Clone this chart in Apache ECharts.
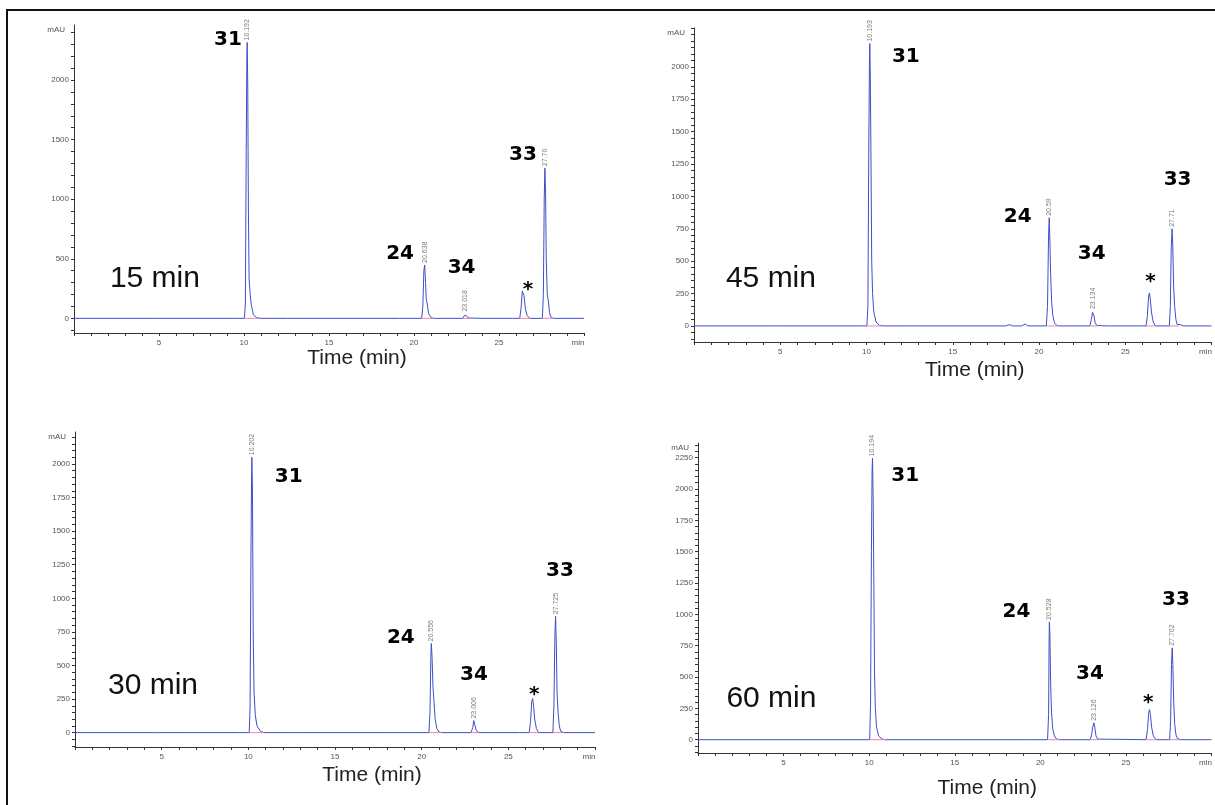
<!DOCTYPE html>
<html>
<head>
<meta charset="utf-8">
<script src="https://cdn.jsdelivr.net/npm/echarts@6/dist/echarts.min.js"></script>
<style>
html, body { margin: 0; padding: 0; background: #fff; }
#container { width: 1215px; height: 805px; }
</style>
</head>
<body>
<div id="container"></div>
<script>
let chart = echarts.init(document.getElementById('container'));

// chromatograms: [time (min), signal (mAU)]
var trace15 = [[0,0],[4.6,0],[4.7,7],[4.8,0],[9.5,0],[9.6,8],[9.7,0],[10.02,0],[10.08,120],[10.13,1400],[10.17,2200],[10.19,2315],[10.22,1950],[10.26,900],[10.3,330],[10.36,210],[10.42,120],[10.55,30],[10.75,5],[11.0,0],[12.55,0],[12.65,8],[12.75,0],[18.1,0],[18.2,6],[18.3,0],[19.15,0],[19.25,7],[19.35,0],[20.45,0],[20.52,100],[20.58,400],[20.63,448],[20.68,300],[20.72,160],[20.78,120],[20.86,40],[21.0,8],[21.15,0],[22.88,0],[22.96,25],[23.02,40],[23.08,22],[23.2,3],[23.3,0],[24.0,0],[24.08,6],[24.16,0],[25.65,0],[25.72,5],[25.8,0],[26.22,0],[26.3,90],[26.37,230],[26.42,240],[26.47,190],[26.55,80],[26.65,25],[26.8,0],[27.55,0],[27.61,200],[27.66,1000],[27.7,1260],[27.74,1050],[27.78,500],[27.84,200],[27.9,150],[27.97,50],[28.05,10],[28.12,18],[28.2,0],[30,0]];
var trace45 = [[0,0],[4.6,0],[4.7,5],[4.8,0],[9.5,0],[9.6,8],[9.7,0],[10.02,0],[10.08,150],[10.13,1350],[10.17,2050],[10.19,2180],[10.22,1920],[10.26,1250],[10.3,500],[10.35,250],[10.42,110],[10.55,30],[10.75,5],[11.0,0],[12.55,0],[12.65,8],[12.75,0],[18.05,0],[18.15,15],[18.3,10],[18.45,0],[18.65,0],[18.75,8],[18.85,0],[19.0,0],[19.1,12],[19.2,15],[19.35,0],[20.42,0],[20.49,150],[20.55,700],[20.59,835],[20.63,650],[20.67,400],[20.73,180],[20.8,80],[20.9,20],[21.05,3],[21.2,0],[22.95,0],[23.03,50],[23.1,105],[23.134,115],[23.18,80],[23.25,25],[23.35,3],[23.45,0],[24.0,0],[24.08,8],[24.16,0],[25.65,0],[25.72,5],[25.8,0],[26.2,0],[26.28,80],[26.35,230],[26.4,255],[26.45,200],[26.52,100],[26.62,30],[26.75,0],[27.55,0],[27.61,150],[27.66,600],[27.71,750],[27.75,620],[27.8,300],[27.86,150],[27.93,50],[28.0,12],[28.1,18],[28.2,10],[28.35,0],[30,0]];
var trace30 = [[0,0],[4.6,0],[4.7,6],[4.8,0],[6.6,0],[6.7,5],[6.8,0],[9.5,0],[9.6,8],[9.7,0],[10.05,0],[10.1,180],[10.15,1300],[10.19,1950],[10.202,2050],[10.24,1800],[10.28,750],[10.33,300],[10.4,130],[10.5,50],[10.7,10],[10.9,0],[12.6,0],[12.7,6],[12.8,0],[18.1,0],[18.2,8],[18.35,0],[18.65,0],[18.72,5],[18.8,0],[19.1,0],[19.2,8],[19.3,0],[20.42,0],[20.48,150],[20.53,560],[20.556,664],[20.6,560],[20.65,350],[20.7,250],[20.78,100],[20.88,30],[21.0,5],[21.15,0],[22.85,0],[22.95,40],[23.006,90],[23.06,60],[23.15,15],[23.3,0],[24.0,0],[24.08,6],[24.16,0],[25.65,0],[25.72,5],[25.8,0],[26.2,0],[26.28,80],[26.35,230],[26.4,254],[26.45,210],[26.52,100],[26.62,30],[26.75,0],[27.57,0],[27.63,200],[27.69,750],[27.725,866],[27.77,650],[27.81,300],[27.87,150],[27.94,50],[28.02,10],[28.1,12],[28.2,0],[30,0]];
var trace60 = [[0,0],[10.03,0],[10.08,300],[10.13,1500],[10.17,2150],[10.194,2245],[10.23,1950],[10.27,1300],[10.31,550],[10.36,250],[10.43,100],[10.55,30],[10.75,5],[10.95,0],[18.05,0],[18.15,10],[18.25,0],[19.1,0],[19.2,8],[19.3,0],[20.42,0],[20.48,200],[20.51,800],[20.528,940],[20.56,820],[20.6,450],[20.65,220],[20.72,90],[20.82,30],[20.95,5],[21.1,0],[22.9,0],[22.98,30],[23.06,100],[23.126,135],[23.18,100],[23.25,30],[23.35,5],[23.45,0],[26.18,0],[26.26,80],[26.33,220],[26.38,240],[26.43,200],[26.5,100],[26.6,30],[26.75,0],[27.55,0],[27.61,150],[27.66,600],[27.702,733],[27.74,600],[27.79,300],[27.85,120],[27.92,40],[28.0,10],[28.1,12],[28.2,0],[30,0]];

// retention time labels printed above the peaks
var rt15 = [[10.192,2315,'10.192'],[20.638,448,'20.638'],[23.018,40,'23.018'],[27.70,1260,'27.70']];
var rt45 = [[10.193,2180,'10.193'],[20.59,835,'20.59'],[23.134,115,'23.134'],[27.71,750,'27.71']];
var rt30 = [[10.202,2050,'10.202'],[20.556,664,'20.556'],[23.006,90,'23.006'],[27.725,866,'27.725']];
var rt60 = [[10.194,2245,'10.194'],[20.528,940,'20.528'],[23.126,135,'23.126'],[27.702,733,'27.702']];

// compound numbers written next to the peaks
var names15 = [[9.06,2336,'31'],[19.18,538,'24'],[22.8,428,'34'],[26.7,286,'*'],[26.41,1370,'33']];
var names45 = [[12.28,2077,'31'],[18.76,840,'24'],[23.05,554,'34'],[26.46,384,'*'],[28.03,1126,'33']];
var names30 = [[12.33,1905,'31'],[18.8,705,'24'],[23.02,434,'34'],[26.5,330,'*'],[27.98,1204,'33']];
var names60 = [[12.1,2103,'31'],[18.6,1017,'24'],[22.9,523,'34'],[26.3,345,'*'],[27.92,1115,'33']];

var run15 = [4.76, 336, '15 min'];
var run45 = [4.46, 368, '45 min'];
var run30 = [4.5, 347, '30 min'];
var run60 = [4.29, 327, '60 min'];

// integration baselines (start, end) in min
var base15 = [[10.0,10.9],[20.45,21.1],[22.85,23.3],[26.2,26.8],[27.55,28.1]];
var base45 = [[10.0,10.9],[20.42,21.2],[22.95,23.4],[26.2,26.75],[27.55,28.1]];
var base30 = [[10.05,10.9],[20.42,21.15],[22.85,23.3],[26.2,26.75],[27.57,28.1]];
var base60 = [[10.03,10.95],[20.42,21.1],[22.9,23.4],[26.18,26.75],[27.55,28.1]];

var yLabels15 = [0,500,1000,1500,2000];
var yLabels45 = [0,250,500,750,1000,1250,1500,1750,2000];
var yLabels30 = [0,250,500,750,1000,1250,1500,1750,2000];
var yLabels60 = [0,250,500,750,1000,1250,1500,1750,2000,2250];
var xLabels = [5,10,15,20,25];

var panels = [
    {trace: trace15, rt: rt15, names: names15, run: run15, base: base15, yLabels: yLabels15, yStep: 100,
     yMin: -123, yMax: 2462, grid: {left: 74, top: 25, width: 510, height: 308}, nameShift: [56, 23]},
    {trace: trace45, rt: rt45, names: names45, run: run45, base: base45, yLabels: yLabels45, yStep: 50,
     yMin: -124, yMax: 2300, grid: {left: 694, top: 28, width: 518, height: 314}, nameShift: [44, 28]},
    {trace: trace30, rt: rt30, names: names30, run: run30, base: base30, yLabels: yLabels30, yStep: 50,
     yMin: -107, yMax: 2238, grid: {left: 75, top: 432, width: 520, height: 315}, nameShift: [74, 28]},
    {trace: trace60, rt: rt60, names: names60, run: run60, base: base60, yLabels: yLabels60, yStep: 50,
     yMin: -106, yMax: 2367, grid: {left: 698, top: 443, width: 515, height: 310}, nameShift: [65, 35]},
];

var axisColor = '#333';
var tickFont = {fontFamily: 'Liberation Sans', fontSize: 8, color: '#555'};
var solid = {opacity: 1};

var option = {
    animation: false,
    backgroundColor: '#fff',
    grid: [],
    xAxis: [],
    yAxis: [],
    series: [],
    graphic: [{
        type: 'rect',
        shape: {x: 7, y: 10, width: 1215, height: 800},
        style: {fill: 'none', stroke: '#111', lineWidth: 2},
        silent: true
    }]
};

panels.forEach((p, i) => {
    option.grid.push(Object.assign({containLabel: false}, p.grid));

    let xTicks = [];
    for (let t = 0; t <= 30; t++) xTicks.push(t);
    option.xAxis.push({
        type: 'value', gridIndex: i, min: 0, max: 30,
        name: 'Time (min)', nameLocation: 'middle', nameGap: p.nameShift[1],
        nameTextStyle: {fontFamily: 'Liberation Sans', fontSize: 21, color: '#222',
            verticalAlign: 'middle', padding: [0, 0, 0, p.nameShift[0]]},
        axisLine: {onZero: false, lineStyle: {color: axisColor, width: 1}},
        axisTick: {inside: false, length: 3, customValues: xTicks, lineStyle: {color: axisColor}},
        axisLabel: Object.assign({margin: 6, customValues: xLabels.concat([29.65]),
            formatter: v => v > 29 ? 'min' : String(v)}, tickFont),
        splitLine: {show: false}
    });

    let yTicks = [];
    for (let v = Math.ceil(p.yMin / p.yStep) * p.yStep; v <= p.yMax; v += p.yStep) yTicks.push(v);
    option.yAxis.push({
        type: 'value', gridIndex: i, min: p.yMin, max: p.yMax,
        name: 'mAU', nameLocation: 'end', nameGap: -5,
        nameTextStyle: {fontFamily: 'Liberation Sans', fontSize: 8, color: '#555',
            align: 'right', verticalAlign: 'middle', padding: [0, 9, 0, 0]},
        axisLine: {show: true, onZero: false, lineStyle: {color: axisColor, width: 1}},
        axisTick: {show: true, inside: false, length: 3, customValues: yTicks, lineStyle: {color: axisColor}},
        axisLabel: Object.assign({margin: 5, customValues: p.yLabels, formatter: v => String(v)}, tickFont),
        splitLine: {show: false}
    });

    option.series.push({
        type: 'line', xAxisIndex: i, yAxisIndex: i, data: p.trace,
        showSymbol: false, symbol: 'none', z: 3,
        lineStyle: {color: '#3f4fc6', width: 1}
    });

    let baseData = [];
    p.base.forEach(b => { baseData.push([b[0], 0], [b[1], 0], '-'); });
    option.series.push({
        type: 'line', xAxisIndex: i, yAxisIndex: i, data: baseData,
        showSymbol: false, symbol: 'none', connectNulls: false, z: 4,
        lineStyle: {color: '#e48aa8', width: 1}
    });

    option.series.push({
        type: 'scatter', xAxisIndex: i, yAxisIndex: i, symbolSize: 0, z: 5,
        itemStyle: solid, emphasis: {disabled: true},
        data: p.rt,
        label: {show: true, position: 'top', distance: 2, rotate: 90,
            align: 'left', verticalAlign: 'middle',
            formatter: params => params.data[2],
            fontFamily: 'Liberation Sans', fontSize: 7, color: '#7d7d6c'}
    });

    option.series.push({
        type: 'scatter', xAxisIndex: i, yAxisIndex: i, symbolSize: 0, z: 6,
        itemStyle: solid, emphasis: {disabled: true},
        data: p.names.map(n => ({value: n, label: {offset: n[2] == '*' ? [0, 6] : [0, 0]}})),
        label: {show: true, position: 'inside',
            formatter: params => params.data.value[2],
            fontFamily: 'DejaVu Sans', fontWeight: 'bold', fontSize: 20, color: '#000'}
    });

    option.series.push({
        type: 'scatter', xAxisIndex: i, yAxisIndex: i, symbolSize: 0, z: 6,
        itemStyle: solid, emphasis: {disabled: true},
        data: [p.run],
        label: {show: true, position: 'inside',
            formatter: params => params.data[2],
            fontFamily: 'Liberation Sans', fontSize: 30, color: '#111'}
    });
});

chart.setOption(option);
</script>
</body>
</html>
